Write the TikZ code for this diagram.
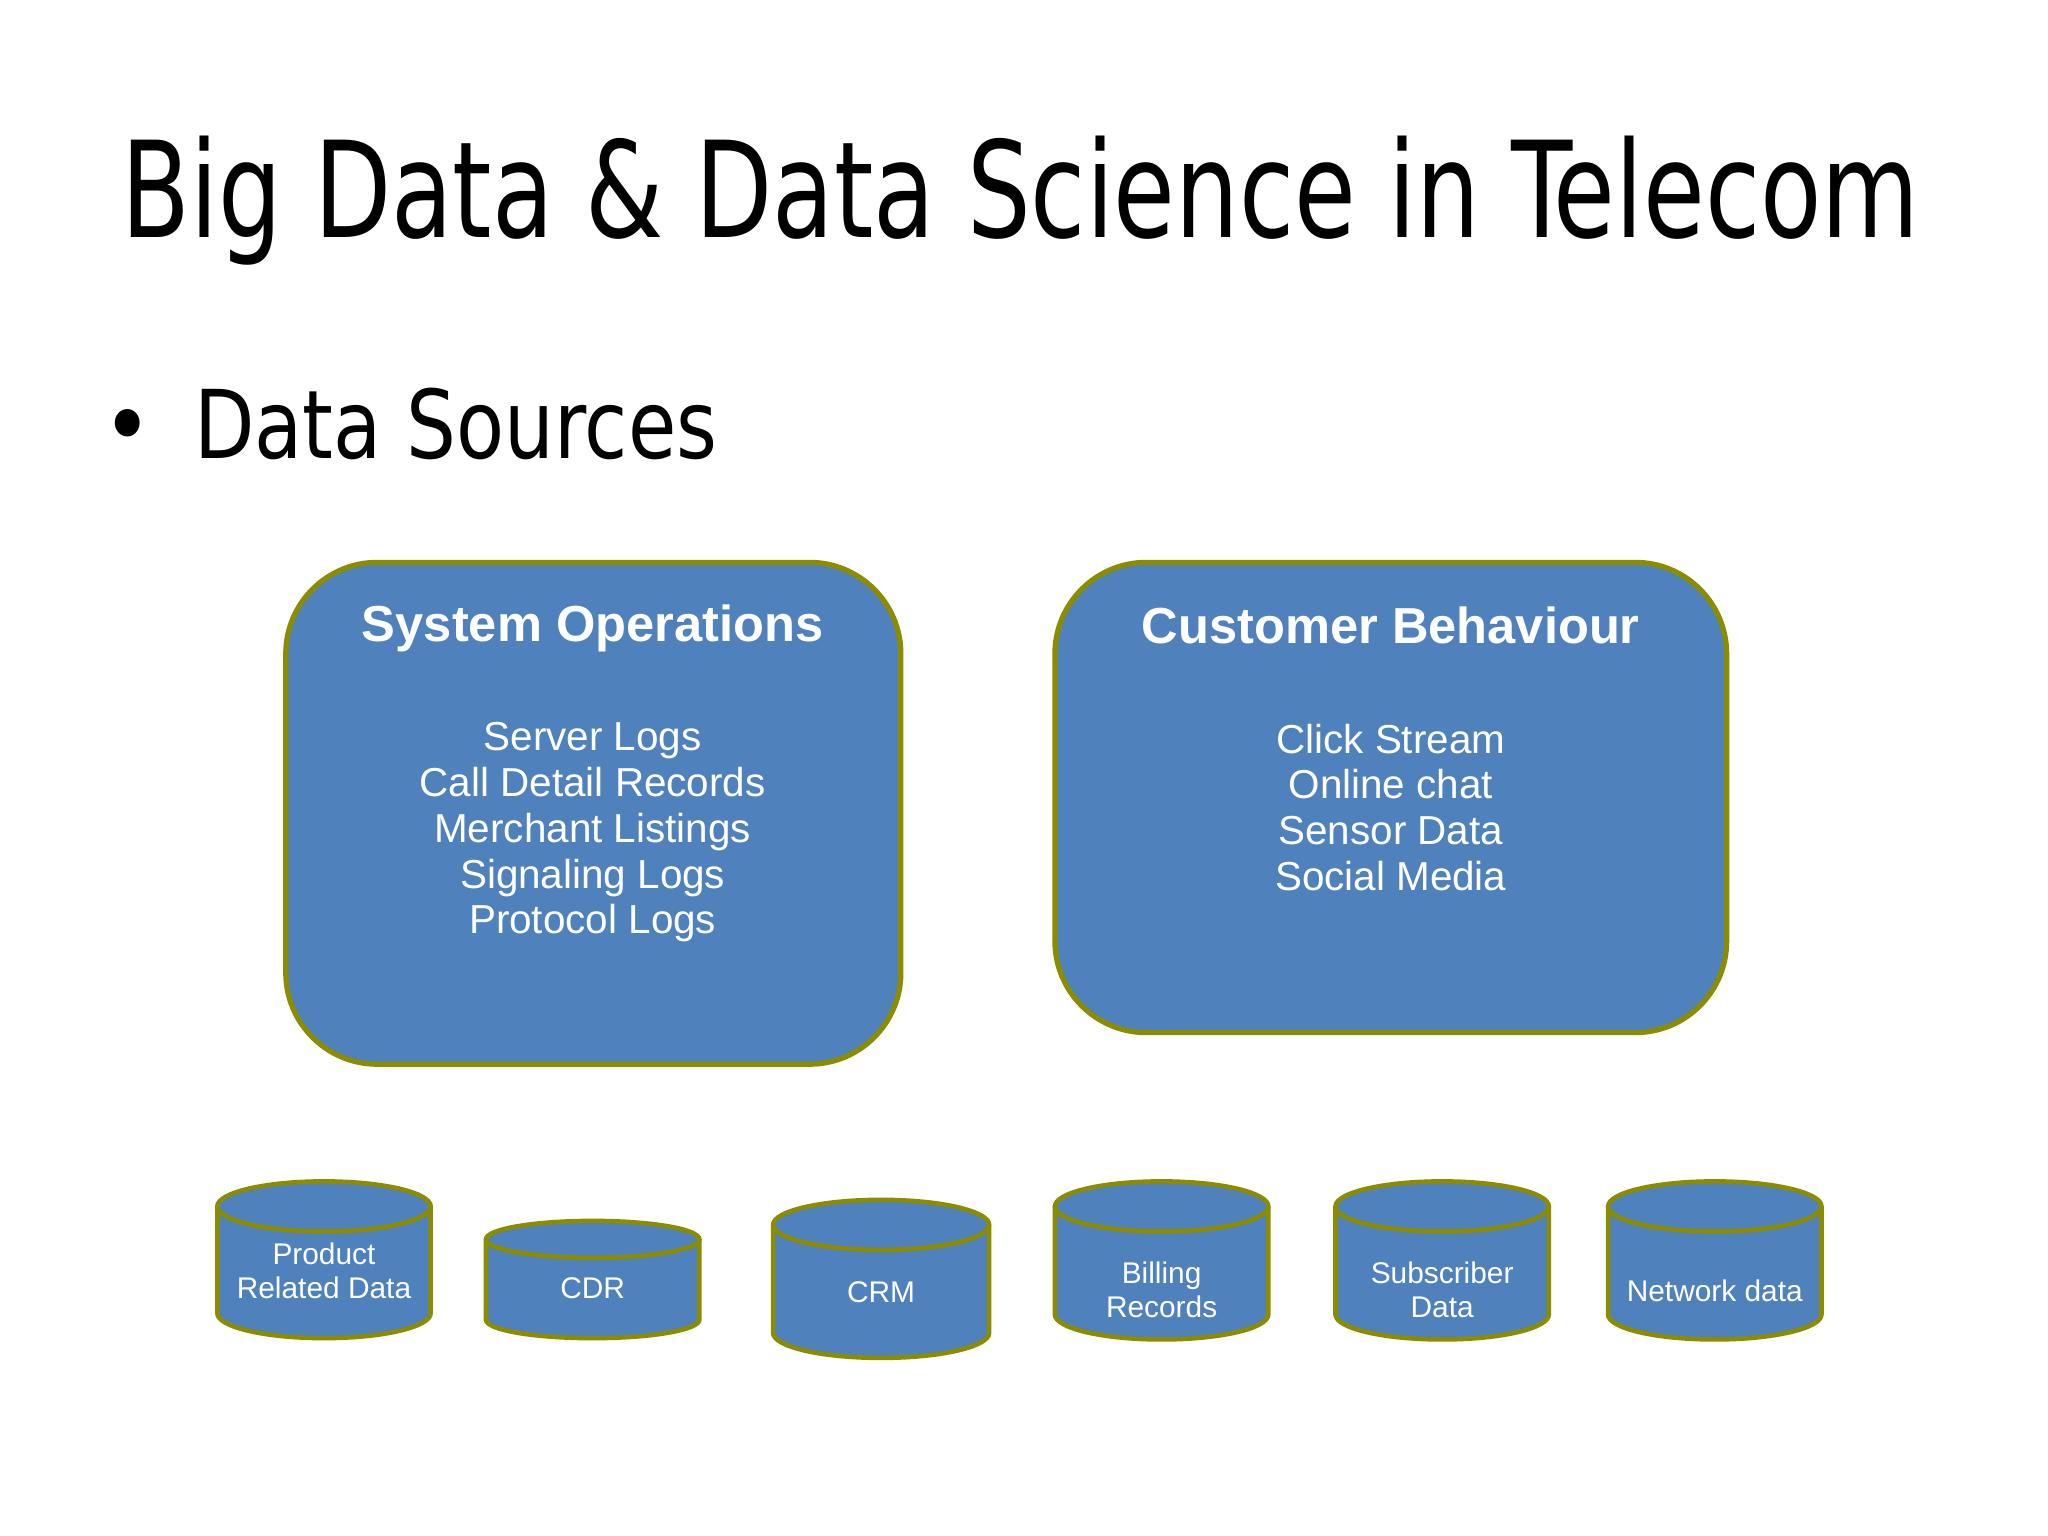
\documentclass[tikz,border=0pt]{standalone}
\usepackage{fontspec}
\setmainfont{Liberation Sans}
\newfontfamily\titlef{DejaVu Sans Condensed}
\definecolor{boxblue}{HTML}{4F81BD}
\definecolor{olive}{HTML}{8C8C00}
\newcommand{\mycyl}[7]{%
  \pgfmathsetmacro{\cx}{(#2+#3)/2}\pgfmathsetmacro{\rx}{(#3-#2)/2}%
  \draw[cyl] (#2,-#4) -- (#2,-#5) arc[start angle=180,end angle=360,x radius=\rx,y radius=#6] -- (#3,-#4);
  \draw[cyl] (\cx,-#4) ellipse[x radius=\rx,y radius=#6];
  \node[cyltext] (#1) at (\cx,-#7) {};}
\begin{document}
\begin{tikzpicture}[x=0.01317cm,y=0.01317cm,
  bigbox/.style={draw=olive,fill=boxblue,line width=1.5pt,rounded corners=26pt},
  cyl/.style={draw=olive,fill=boxblue,line width=1.3pt},
  cyltext/.style={text=white,font=\fontsize{8.5}{9.7}\selectfont,align=center},
  head/.style={text=white,font=\bfseries\fontsize{14.4}{16}\selectfont},
  body/.style={text=white,font=\fontsize{11.5}{13}\selectfont,align=center}]
\useasboundingbox (0,0) rectangle (1555,-1166);
\fill[white] (0,0) rectangle (1555,-1166);
\node[anchor=base west,inner sep=0,font=\titlef\fontsize{38}{40}\selectfont] (title) at (92,-180) {\scalebox{0.835}[1]{Big Data \& Data Science in Telecom}};
\node[anchor=base,inner sep=0,font=\titlef\fontsize{27}{30}\selectfont] (bul) at (97,-348) {•};
\node[anchor=base west,inner sep=0,font=\titlef\fontsize{27}{30}\selectfont] (ds) at (147,-348) {\scalebox{0.92}[1]{Data Sources}};
\draw[bigbox] (217,-427) rectangle (684,-808);
\draw[bigbox] (801,-427) rectangle (1311,-784);
\node[head] (h1) at (450,-477) {System Operations};
\node[body] (b1) at (450,-632) {Server Logs\\Call Detail Records\\Merchant Listings\\Signaling Logs\\Protocol Logs};
\node[head] (h2) at (1056,-475) {Customer Behaviour};
\node[body] (b2) at (1056,-613) {Click Stream\\Online chat\\Sensor Data\\Social Media};
\mycyl{c1}{165}{327}{916}{997}{19}{965}
\node[cyltext] at (c1) {Product\\Related Data};
\mycyl{c2}{369}{531}{941}{1002}{14}{978}
\node[cyltext] at (c2) {CDR};
\mycyl{c3}{587}{751}{930}{1012}{19}{981}
\node[cyltext] at (c3) {CRM};
\mycyl{c4}{801}{963}{916}{998}{19}{979}
\node[cyltext] at (c4) {Billing\\Records};
\mycyl{c5}{1014}{1176}{916}{998}{19}{979}
\node[cyltext] at (c5) {Subscriber\\Data};
\mycyl{c6}{1221}{1383}{916}{998}{19}{980}
\node[cyltext] at (c6) {Network data};
\end{tikzpicture}
\end{document}
